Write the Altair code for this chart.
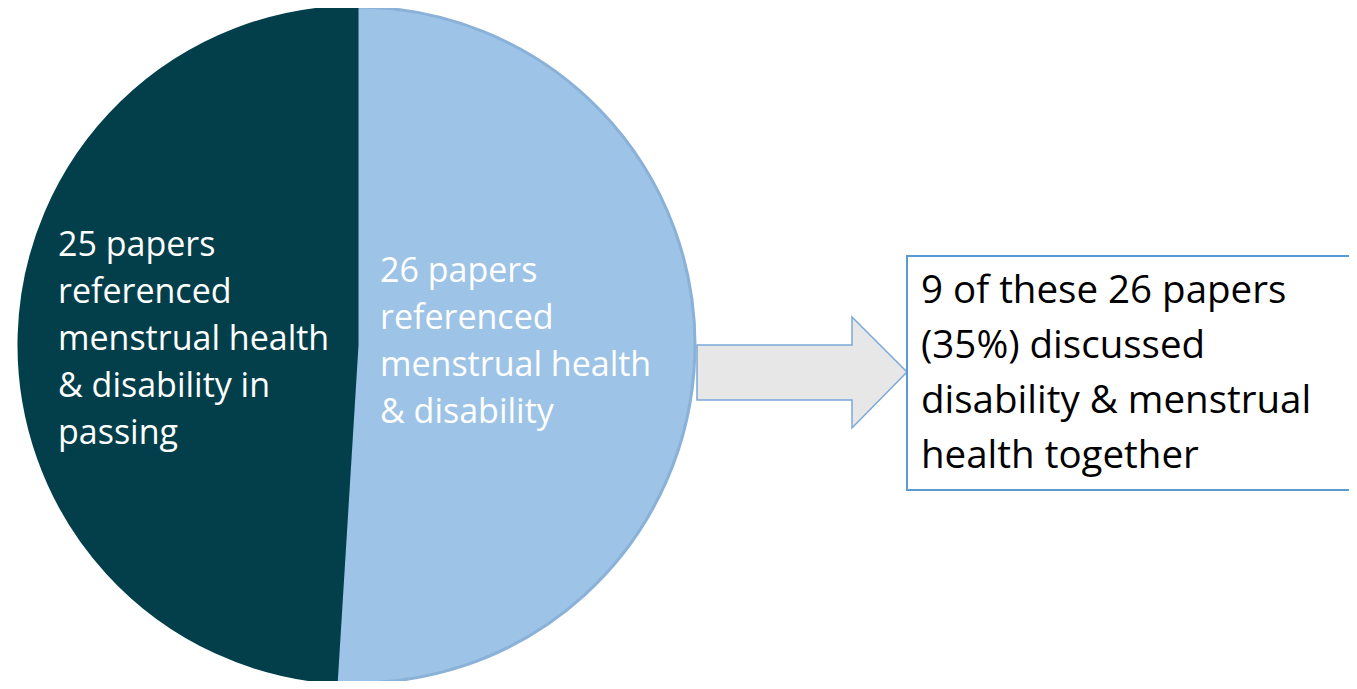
import altair as alt
import pandas as pd

# ---- data ----
categories = ["referenced menstrual health & disability", "referenced in passing"]
paper_counts = [26, 25]
slice_order = [1, 2]
slice_colors = ["#9DC3E6", "#023F4B"]
slice_strokes = ["#8AB1D8", "#023F4B"]

pie_labels = [
    "26 papers\nreferenced\nmenstrual health\n& disability",
    "25 papers\nreferenced\nmenstrual health\n& disability in\npassing",
]
box_label = "9 of these 26 papers\n(35%) discussed\ndisability & menstrual\nhealth together"

# ---- layout (image pixel coordinates) ----
W, H = 1341, 673
X0, Y0 = 8, 8
pie_cx, pie_cy, pie_r = 357, 345, 338
label_x = [380, 58]
label_y = [282, 256]
box_x, box_x2, box_y, box_y2 = 907, 1362, 256, 490
box_text_x, box_text_y = 921, 303
arrow_x = [697, 852, 852, 907]
arrow_top = [345, 345, 317, 372]
arrow_bot = [400, 400, 428, 372]

xs = alt.Scale(domain=[X0, X0 + W], nice=False, zero=False)
ys = alt.Scale(domain=[Y0, Y0 + H], reverse=True, nice=False, zero=False)

pie_df = pd.DataFrame({
    "cat": categories, "n": paper_counts, "ord": slice_order,
    "cx": [pie_cx] * 2, "cy": [pie_cy] * 2,
})
arrow_df = pd.DataFrame({"x": arrow_x, "top": arrow_top, "bot": arrow_bot})
box_df = pd.DataFrame({"x": [box_x], "x2": [box_x2], "y": [box_y], "y2": [box_y2]})
lab_df = pd.DataFrame({"t": pie_labels, "x": label_x, "y": label_y})
boxlab_df = pd.DataFrame({"t": [box_label], "x": [box_text_x], "y": [box_text_y]})

arrow = alt.Chart(arrow_df).mark_area(
    fill="#E7E7E7", stroke="#7AA8D8", strokeWidth=1.5, interpolate="linear",
    orient="vertical",
).encode(
    x=alt.X("x:Q", scale=xs, axis=None),
    y=alt.Y("top:Q", scale=ys, axis=None),
    y2="bot:Q",
)

pie = alt.Chart(pie_df).mark_arc(radius=pie_r, strokeWidth=3).encode(
    theta=alt.Theta("n:Q", stack=True),
    order=alt.Order("ord:Q"),
    color=alt.Color("cat:N", scale=alt.Scale(domain=categories, range=slice_colors), legend=None),
    stroke=alt.Stroke("cat:N", scale=alt.Scale(domain=categories, range=slice_strokes), legend=None),
    x=alt.X("cx:Q", scale=xs, axis=None),
    y=alt.Y("cy:Q", scale=ys, axis=None),
)

box = alt.Chart(box_df).mark_rect(fill="white", stroke="#5B9BD5", strokeWidth=2).encode(
    x=alt.X("x:Q", scale=xs, axis=None), x2="x2:Q",
    y=alt.Y("y:Q", scale=ys, axis=None), y2="y2:Q",
)

labels = alt.Chart(lab_df).mark_text(
    align="left", baseline="alphabetic", color="white", font="Open Sans",
    fontSize=34, lineBreak="\n", lineHeight=47,
).encode(
    x=alt.X("x:Q", scale=xs, axis=None),
    y=alt.Y("y:Q", scale=ys, axis=None),
    text="t:N",
)

boxlab = alt.Chart(boxlab_df).mark_text(
    align="left", baseline="alphabetic", color="black", font="Open Sans",
    fontSize=38.5, lineBreak="\n", lineHeight=55,
).encode(
    x=alt.X("x:Q", scale=xs, axis=None),
    y=alt.Y("y:Q", scale=ys, axis=None),
    text="t:N",
)

chart = alt.layer(arrow, pie, box, labels, boxlab).properties(
    width=W, height=H, autosize=alt.AutoSizeParams(type="none"), padding=0,
).configure_view(stroke=None)

chart.save("out.html", embed_options={"renderer": "svg", "actions": False})
